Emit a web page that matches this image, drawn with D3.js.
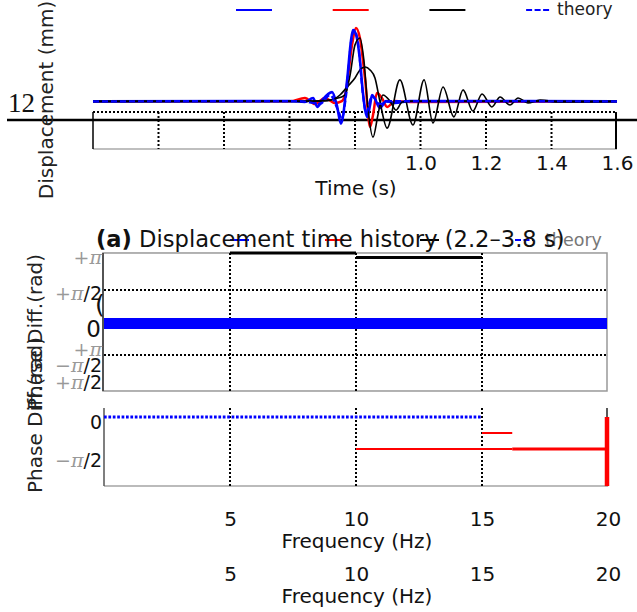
<!DOCTYPE html>
<html>
<head>
<meta charset="utf-8">
<script src="https://cdn.jsdelivr.net/npm/d3@7"></script>
<style>
  body { margin: 0; background: #fff; }
  svg { display: block; font-family: 'DejaVu Sans', sans-serif; }
</style>
</head>
<body>
<svg id="chart"></svg>
<script>
const width = 637, height = 612;
const PI = Math.PI;

// displacement histories, [time (s), displacement (mm)]
const blueTrace = [[0, 12.0], [0.60, 12.01], [0.647, 11.97], [0.672, 12.14], [0.685, 11.77], [0.700, 12.05],
  [0.730, 12.38], [0.745, 11.81], [0.757, 11.08], [0.776, 12.88], [0.788, 14.52], [0.794, 14.93],
  [0.803, 14.75], [0.815, 13.70], [0.824, 12.38], [0.831, 11.64], [0.837, 11.36], [0.846, 11.85],
  [0.852, 12.26], [0.861, 12.10], [0.876, 11.73], [0.895, 12.01], [0.922, 11.93], [0.968, 12.01], [1.6, 12.0]];
const redTrace = [[0, 12.0], [0.602, 12.0], [0.647, 12.14], [0.678, 11.89], [0.708, 12.14], [0.739, 11.93],
  [0.760, 12.01], [0.773, 12.47], [0.791, 14.32], [0.803, 15.01], [0.815, 14.60], [0.831, 12.88],
  [0.846, 10.95], [0.855, 11.44], [0.867, 12.34], [0.882, 12.14], [0.898, 11.77], [0.922, 12.01],
  [0.968, 11.97], [1.6, 12.0]];
const blackSharp = [[0, 12.0], [0.693, 12.01], [0.739, 12.10], [0.769, 12.26], [0.785, 13.08], [0.800, 14.32],
  [0.815, 14.60], [0.827, 13.70], [0.840, 11.64], [0.855, 10.53], [0.870, 11.44], [0.885, 12.26],
  [0.907, 12.01], [0.925, 11.64], [0.944, 11.97], [0.968, 12.01], [1.6, 12.0]];
const blackRing = [[0, 12.0], [0.632, 12.0], [0.724, 12.05], [0.754, 12.26], [0.776, 12.59], [0.800, 12.96],
  [0.815, 13.29], [0.831, 13.41], [0.846, 13.29], [0.861, 12.96], [0.876, 12.0], [0.898, 10.90],
  [0.937, 12.88], [0.977, 11.03], [1.011, 12.88], [1.038, 11.11], [1.069, 12.59], [1.102, 11.36],
  [1.130, 12.47], [1.160, 11.60], [1.188, 12.30], [1.218, 11.77], [1.243, 12.18], [1.273, 11.85],
  [1.298, 12.14], [1.328, 11.93], [1.365, 12.05], [1.426, 11.97], [1.6, 12.0]];
const theoryTrace = [[0, 12.0], [0.632, 12.01], [0.693, 11.89], [0.724, 12.26], [0.748, 11.64], [0.760, 11.32],
  [0.773, 12.26], [0.788, 14.44], [0.797, 14.93], [0.809, 14.44], [0.824, 12.30], [0.834, 11.52],
  [0.852, 12.22], [0.876, 11.89], [0.907, 12.01], [1.6, 12.0]];

const legendLabels = ['', '', '', 'theory'];
const legendColors = ['#0000ff', '#ff0000', '#000000', '#0000ff'];

const timeGrid = [0.2, 0.4, 0.6, 0.8, 1.0, 1.2, 1.4];
const timeTicks = [1.0, 1.2, 1.4, 1.6];
const dispTicks = [12];

const freqGrid = [5, 10, 15];
const freqTicks = [5, 10, 15, 20];

// phase differences, segments [f from, f to, rad]
const phaseBand = [[0, 20, 0]];
const phaseBlack = [[5, 10, 3.36], [10, 15, PI]];
const phaseTheory = [[0, 15, 0]];
const phaseRedThin = [[15, 16.2, -PI / 4], [10, 16.2, -PI / 2]];
const phaseRedWide = [[16.2, 20, -PI / 2]];
const phaseJump = [[20, 0, -3.39]];
const phaseTicksB = [PI, PI / 2];
const phaseLabelsB = ['+π', '+π/2'];
const strayLabels = ['+π', '−π/2', '+π/2'];
const phaseTicksC = [0, -PI / 2];
const phaseLabelsC = ['0', '−π/2'];

const svg = d3.select('#chart').attr('width', width).attr('height', height);
svg.append('rect').attr('width', width).attr('height', height).attr('fill', '#fff');

// ---------- upper panel: displacement ----------
const x1 = d3.scaleLinear([0, 1.6], [93, 617]);
const y1 = d3.scaleLinear([10, 16], [150, 4]);
const gridLevel = 11.56, axisLevel = 11.23, floorLevel = 10.04;

const gDisp = svg.append('g');
gDisp.append('line').attr('x1', x1(0)).attr('x2', x1(1.6)).attr('y1', y1(floorLevel)).attr('y2', y1(floorLevel))
    .attr('stroke', '#aaa').attr('stroke-width', 1.5);
gDisp.append('line').attr('x1', x1(0)).attr('x2', x1(0)).attr('y1', y1(gridLevel)).attr('y2', y1(floorLevel))
    .attr('stroke', '#000').attr('stroke-width', 1.5);
gDisp.append('line').attr('x1', x1(1.597)).attr('x2', x1(1.597)).attr('y1', y1(gridLevel)).attr('y2', y1(floorLevel))
    .attr('stroke', '#000').attr('stroke-width', 2);
gDisp.append('line').attr('x1', x1(0)).attr('x2', x1(1.597)).attr('y1', y1(gridLevel)).attr('y2', y1(gridLevel))
    .attr('stroke', '#000').attr('stroke-width', 2).attr('stroke-dasharray', '2,2');
gDisp.selectAll('.tg').data(timeGrid).join('line')
    .attr('x1', d => x1(d)).attr('x2', d => x1(d))
    .attr('y1', y1(gridLevel)).attr('y2', y1(floorLevel))
    .attr('stroke', '#000').attr('stroke-width', 2).attr('stroke-dasharray', '2,2');
gDisp.append('line').attr('x1', 7).attr('x2', width).attr('y1', y1(axisLevel)).attr('y2', y1(axisLevel))
    .attr('stroke', '#000').attr('stroke-width', 2.5);

const line1 = d3.line().x(d => x1(d[0])).y(d => y1(d[1])).curve(d3.curveMonotoneX);
[[redTrace, '#ff0000', 2.5, null], [blueTrace, '#0000ff', 2.6, null],
 [blackRing, '#000', 1.6, null], [blackSharp, '#000', 1.6, null],
 [theoryTrace, '#0000ff', 2.2, '6,3']].forEach(([d, c, w, dash]) => {
  gDisp.append('path').datum(d).attr('d', line1).attr('fill', 'none')
      .attr('stroke', c).attr('stroke-width', w).attr('stroke-dasharray', dash);
});

const xAxis1 = gDisp.append('g').attr('transform', 'translate(0,156)')
    .call(d3.axisBottom(x1).tickValues(timeTicks).tickSize(0).tickPadding(0).tickFormat(d3.format('.1f')));
xAxis1.select('.domain').remove();
xAxis1.selectAll('text').attr('font-size', 20).attr('font-family', 'DejaVu Sans').attr('fill', '#111');
gDisp.append('text').attr('x', 356).attr('y', 195).attr('text-anchor', 'middle')
    .attr('font-size', 20).attr('fill', '#111').text('Time (s)');

gDisp.selectAll('.dt').data(dispTicks).join('text')
    .attr('x', 8).attr('y', d => y1(d) + 11)
    .attr('font-family', 'Liberation Serif').attr('font-size', 27).attr('fill', '#111').text(d => d);

gDisp.append('text').attr('transform', 'translate(53,100) rotate(-90)').attr('text-anchor', 'middle')
    .attr('font-size', 20).attr('fill', '#222').text('Displacement (mm)');

function legend(g, o) {
  legendLabels.forEach((lab, i) => {
    const x = o.x0 + i * o.step;
    const len = lab ? o.lastLen : o.len;
    g.append('line').attr('x1', x).attr('x2', x + len).attr('y1', o.y).attr('y2', o.y)
        .attr('stroke', legendColors[i]).attr('stroke-width', 2)
        .attr('stroke-dasharray', lab ? '6,2.5' : null);
    if (lab) g.append('text').attr('x', x + len + o.gap).attr('y', o.y).attr('dy', '0.32em')
        .attr('font-size', o.size).attr('fill', o.fill).text(lab);
  });
}
legend(gDisp, {x0: 236, step: 96.7, y: 10, len: 36, lastLen: 24, gap: 7, size: 17, fill: '#222'});

// ---------- middle panel: phase difference ----------
const x2 = d3.scaleLinear([0, 20], [104, 608]);
const y2 = d3.scaleLinear([-PI / 2, PI / 2], [355, 290]);
const gMid = svg.append('g');
const fTop = 3.36, fBot = -3.31;

svg.append('text').attr('x', 96).attr('y', 247).attr('font-size', 22.6).attr('fill', '#111')
  .call(t => {
    t.append('tspan').attr('font-weight', 'bold').text('(a)');
    t.append('tspan').text(' Displacement time history (2.2–3.8 s)');
  });

gMid.append('rect').attr('x', x2(0) - 1).attr('y', y2(fTop)).attr('width', x2(20) - x2(0))
    .attr('height', y2(fBot) - y2(fTop)).attr('fill', 'none').attr('stroke', '#999').attr('stroke-width', 1.5);
gMid.append('line').attr('x1', x2(0) - 1).attr('x2', x2(0) - 1).attr('y1', y2(fTop)).attr('y2', y2(fBot))
    .attr('stroke', '#333').attr('stroke-width', 1.5);
gMid.selectAll('.hg').data([PI / 2, -PI / 2]).join('line')
    .attr('x1', x2(0)).attr('x2', x2(20)).attr('y1', d => y2(d)).attr('y2', d => y2(d))
    .attr('stroke', '#000').attr('stroke-width', 2).attr('stroke-dasharray', '2,2');
gMid.selectAll('.vg').data(freqGrid).join('line')
    .attr('x1', d => x2(d)).attr('x2', d => x2(d)).attr('y1', y2(fTop)).attr('y2', y2(fBot))
    .attr('stroke', '#000').attr('stroke-width', 2).attr('stroke-dasharray', '2,2');

gMid.selectAll('.band').data(phaseBand).join('line')
    .attr('x1', d => x2(d[0])).attr('x2', d => x2(d[1]) - 1).attr('y1', d => y2(d[2]) + 1).attr('y2', d => y2(d[2]) + 1)
    .attr('stroke', '#0000ff').attr('stroke-width', 11);
gMid.selectAll('.blk').data(phaseBlack).join('line')
    .attr('x1', d => x2(d[0])).attr('x2', d => x2(d[1])).attr('y1', d => y2(d[2])).attr('y2', d => y2(d[2]))
    .attr('stroke', '#000').attr('stroke-width', 3);

function piLabel(sel, s) {
  const m = s.match(/^([+−]?π?)(.*)$/);
  if (m[1]) sel.append('tspan').attr('fill', '#999').attr('font-family', 'DejaVu Serif').attr('font-style', 'italic').text(m[1]);
  if (m[2]) sel.append('tspan').attr('fill', '#111').text(m[2]);
}
phaseTicksB.forEach((v, i) => {
  gMid.append('text').attr('x', 102).attr('y', y2(v) + (i ? 3 : 0)).attr('dy', '0.35em')
      .attr('text-anchor', 'end').attr('font-size', 19).call(piLabel, phaseLabelsB[i]);
});
gMid.append('text').attr('x', 101).attr('y', y2(0) + 6).attr('dy', '0.35em').attr('text-anchor', 'end')
    .attr('font-size', 23).attr('fill', '#111').text('0');
gMid.append('text').attr('x', 100).attr('y', 313).attr('text-anchor', 'middle')
    .attr('font-size', 25).attr('fill', '#111').text('(');
const stray = d3.scalePoint(strayLabels, [349, 382]);
strayLabels.forEach(s => {
  gMid.append('text').attr('x', 102).attr('y', stray(s)).attr('dy', '0.35em')
      .attr('text-anchor', 'end').attr('font-size', 19).call(piLabel, s);
});
gMid.append('text').attr('transform', 'translate(42,332) rotate(-90)').attr('text-anchor', 'middle')
    .attr('font-size', 20).attr('fill', '#222').text('Phase Diff.(rad)');

legend(gMid, {x0: 230, step: 95, y: 240, len: 19, lastLen: 18, gap: 12, size: 17.5, fill: '#777'});

// ---------- lower panel: phase difference ----------
const y3 = d3.scaleLinear([-PI / 2, 0], [449, 417]);
const y3lab = d3.scaleLinear([-PI / 2, 0], [460, 422]);
const gLow = svg.append('g');
const bTop = 0.44, bBot = -3.39;

gLow.append('line').attr('x1', x2(0)).attr('x2', x2(20)).attr('y1', y3(bBot)).attr('y2', y3(bBot))
    .attr('stroke', '#bbb').attr('stroke-width', 2);
gLow.append('line').attr('x1', x2(0)).attr('x2', x2(0)).attr('y1', y3(bTop)).attr('y2', y3(bBot))
    .attr('stroke', '#555').attr('stroke-width', 1.5);
gLow.selectAll('.vg').data(freqGrid).join('line')
    .attr('x1', d => x2(d)).attr('x2', d => x2(d)).attr('y1', y3(bTop)).attr('y2', y3(bBot))
    .attr('stroke', '#000').attr('stroke-width', 2).attr('stroke-dasharray', '2,2');
gLow.append('line').attr('x1', x2(20) - 1).attr('x2', x2(20) - 1).attr('y1', y3(bTop)).attr('y2', y3(0))
    .attr('stroke', '#222').attr('stroke-width', 1.5);

gLow.selectAll('.th').data(phaseTheory).join('line')
    .attr('x1', d => x2(d[0])).attr('x2', d => x2(d[1])).attr('y1', d => y3(d[2])).attr('y2', d => y3(d[2]))
    .attr('stroke', '#0000ff').attr('stroke-width', 3).attr('stroke-dasharray', '2.7,1.7');
gLow.selectAll('.rt').data(phaseRedThin).join('line')
    .attr('x1', d => x2(d[0])).attr('x2', d => x2(d[1])).attr('y1', d => y3(d[2])).attr('y2', d => y3(d[2]))
    .attr('stroke', '#ff0000').attr('stroke-width', 2);
gLow.selectAll('.rw').data(phaseRedWide).join('line')
    .attr('x1', d => x2(d[0])).attr('x2', d => x2(d[1]) - 1).attr('y1', d => y3(d[2])).attr('y2', d => y3(d[2]))
    .attr('stroke', '#ff0000').attr('stroke-width', 2.8);
gLow.selectAll('.rj').data(phaseJump).join('line')
    .attr('x1', d => x2(d[0]) - 1).attr('x2', d => x2(d[0]) - 1).attr('y1', d => y3(d[1])).attr('y2', d => y3(d[2]))
    .attr('stroke', '#ff0000').attr('stroke-width', 4.5);

phaseTicksC.forEach((v, i) => {
  gLow.append('text').attr('x', 102).attr('y', y3lab(v)).attr('dy', '0.35em')
      .attr('text-anchor', 'end').attr('font-size', 19).call(piLabel, phaseLabelsC[i]);
});
gLow.append('text').attr('transform', 'translate(42,415) rotate(-90)').attr('text-anchor', 'middle')
    .attr('font-size', 20).attr('fill', '#222').text('Phase Diff.(rad)');

[512, 567].forEach(ty => {
  const ax = gLow.append('g').attr('transform', `translate(0,${ty})`)
      .call(d3.axisBottom(x2).tickValues(freqTicks).tickSize(0).tickPadding(0));
  ax.select('.domain').remove();
  ax.selectAll('text').attr('font-size', 20).attr('font-family', 'DejaVu Sans').attr('fill', '#111');
  gLow.append('text').attr('x', 357).attr('y', ty + 36).attr('text-anchor', 'middle')
      .attr('font-size', 20).attr('fill', '#111').text('Frequency (Hz)');
});
</script>
</body>
</html>
